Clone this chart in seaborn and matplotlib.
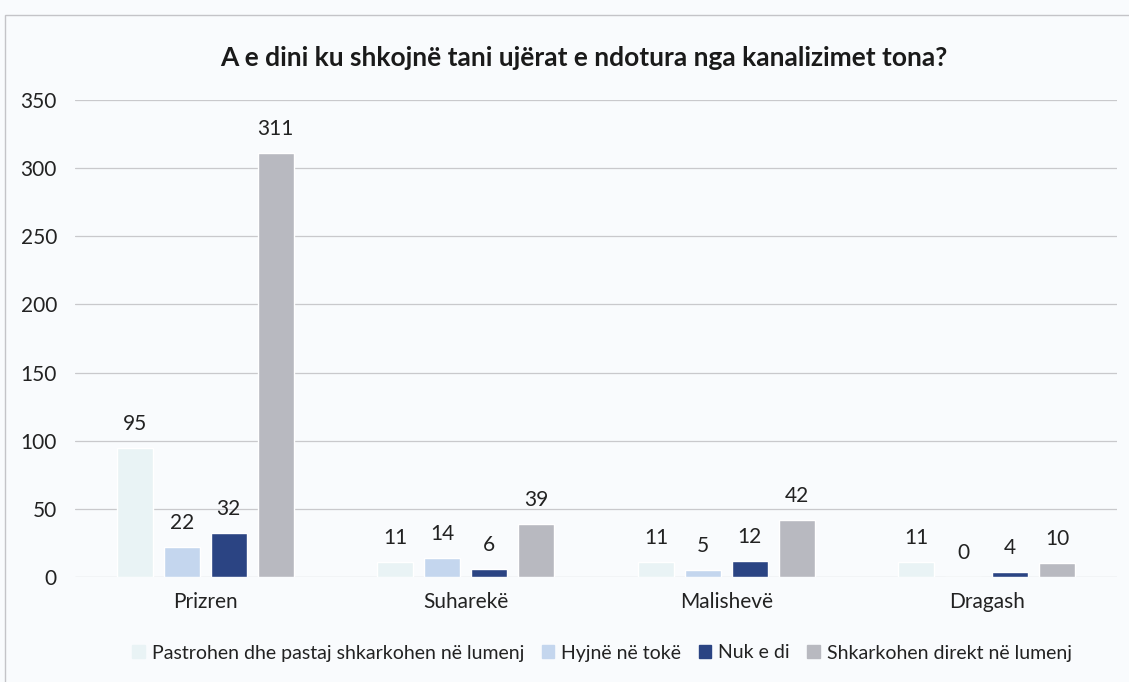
import matplotlib
matplotlib.use("Agg")
import matplotlib.pyplot as plt
import seaborn as sns
import pandas as pd

# Survey answers per municipality
municipalities = ["Prizren", "Suharekë", "Malishevë", "Dragash"]
answers = [
    "Pastrohen dhe pastaj shkarkohen në lumenj",
    "Hyjnë në tokë",
    "Nuk e di",
    "Shkarkohen direkt në lumenj",
]
treated_then_rivers = [95, 11, 11, 11]
into_ground = [22, 14, 5, 0]
dont_know = [32, 6, 12, 4]
direct_to_rivers = [311, 39, 42, 10]

title = "A e dini ku shkojnë tani ujërat e ndotura nga kanalizimet tona?"
y_ticks = [0, 50, 100, 150, 200, 250, 300, 350]

colors = ["#e9f3f5", "#c4d6ee", "#2b4483", "#b8b9c0"]
bg = "#f9fbfd"

rows = []
for series, vals in zip(answers, [treated_then_rivers, into_ground, dont_know, direct_to_rivers]):
    for m, v in zip(municipalities, vals):
        rows.append({"Komuna": m, "Përgjigja": series, "Numri": v})
df = pd.DataFrame(rows)

sns.set_theme(style="white")
plt.rcParams["font.family"] = ["Lato", "DejaVu Sans"]

fig = plt.figure(figsize=(11.29, 6.82), dpi=100, facecolor=bg)
ax = fig.add_axes([75 / 1129, 1 - 577 / 682, (1117 - 75) / 1129, 477 / 682])
ax.set_facecolor(bg)

sns.barplot(
    data=df, x="Komuna", y="Numri", hue="Përgjigja",
    order=municipalities, hue_order=answers, palette=colors,
    width=0.72, gap=0.23, ax=ax, legend=True, saturation=1,
)

for cont in ax.containers:
    ax.bar_label(cont, padding=10, fontsize=15, color="#222222")

ax.set_ylim(0, 350)
ax.set_yticks(y_ticks)
ax.yaxis.grid(True, color="#c9c9cc", linewidth=0.9)
ax.set_axisbelow(True)
for s in ax.spines.values():
    s.set_visible(False)
ax.tick_params(axis="both", length=0, labelsize=15, labelcolor="#222222")
ax.tick_params(axis="y", pad=13)
ax.tick_params(axis="x", pad=11)
ax.set_xlabel("")
ax.set_ylabel("")

ax.legend_.remove()
handles = [plt.Rectangle((0, 0), 1, 1, color=c) for c in colors]
fig.legend(handles, answers, loc="center", bbox_to_anchor=(602 / 1129, 1 - 653 / 682),
           ncol=4, frameon=False, fontsize=14, handlelength=0.65, handleheight=0.65,
           handletextpad=0.35, columnspacing=0.9, labelcolor="#222222")

fig.text(584 / 1129, 1 - 58 / 682, title, ha="center", va="center",
         fontsize=19, fontweight="bold", color="#1a1a1a")

# outer chart frame
frame = plt.Rectangle((5 / 1129, -0.05), 1.2, 1 - 15 / 682 + 0.05, transform=fig.transFigure,
                      fill=False, edgecolor="#c4c4c8", linewidth=1.0)
fig.patches.append(frame)

fig.savefig("out.png", dpi=100, facecolor=bg)
